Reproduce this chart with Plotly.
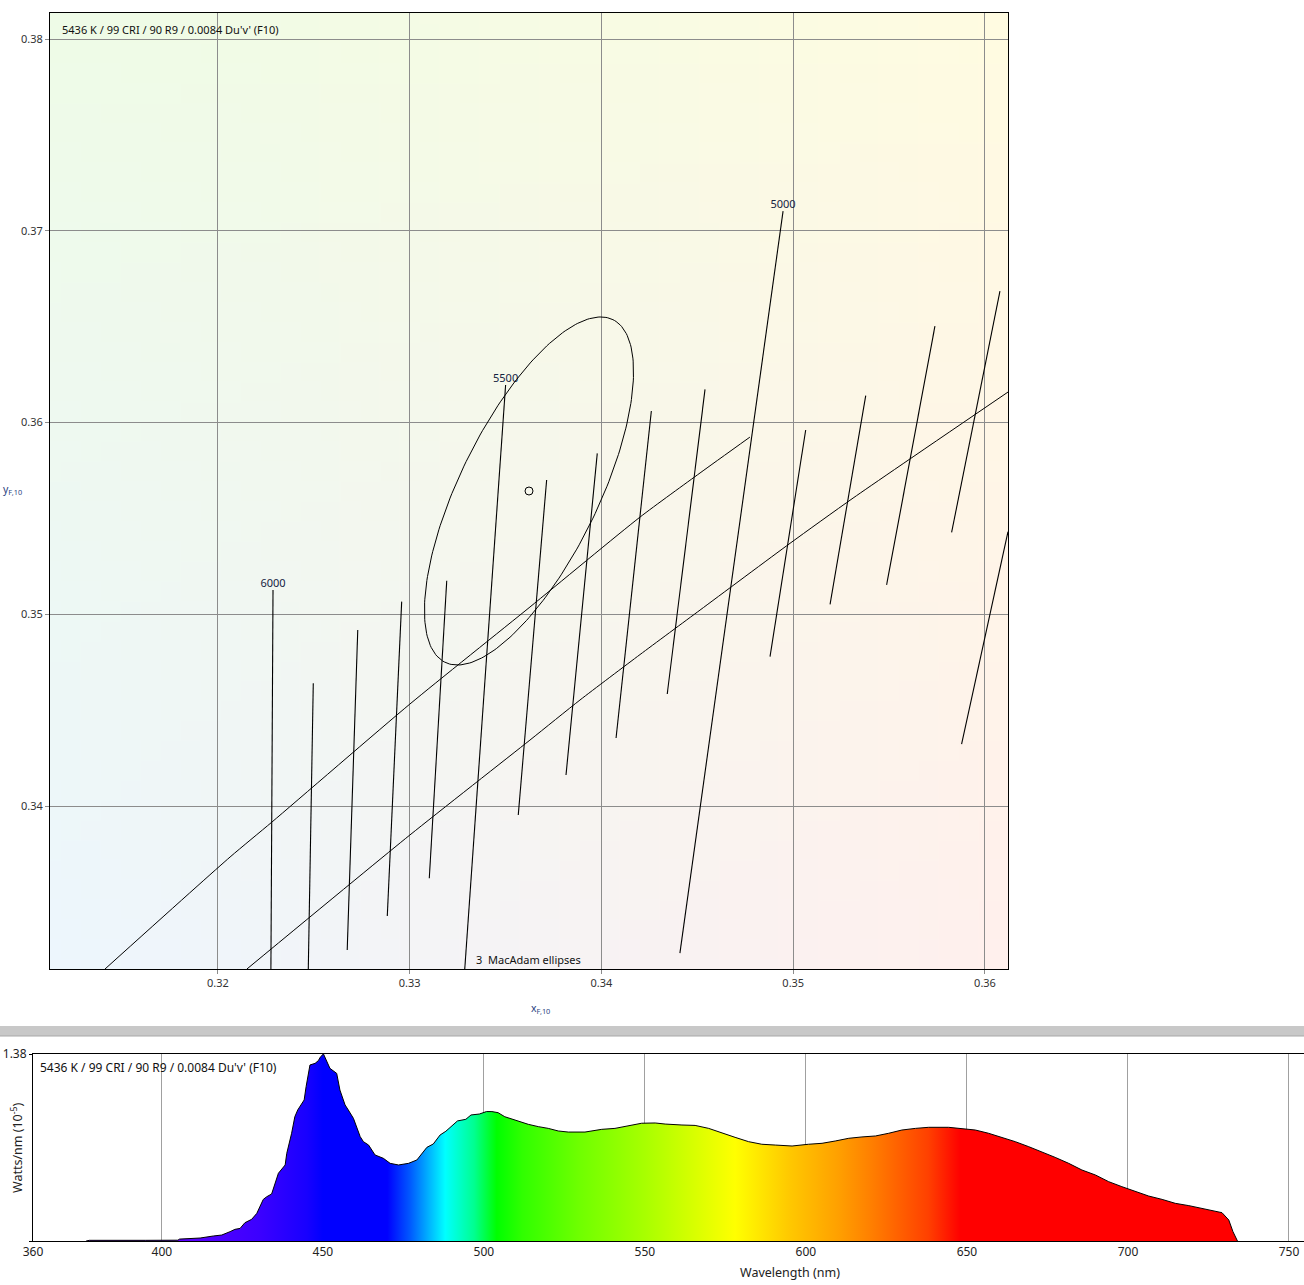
import base64
import struct
import zlib

import numpy as np
import plotly.graph_objects as go

# ---------------- Chromaticity chart data (x_F10, y_F10) ----------------
X_RANGE = [0.31124, 0.3612]
Y_RANGE = [0.3315, 0.38136]
X_TICKS = [0.32, 0.33, 0.34, 0.35, 0.36]
Y_TICKS = [0.34, 0.35, 0.36, 0.37, 0.38]

UPPER_LOCUS_X = [0.31411, 0.32063, 0.32282, 0.33001, 0.33627, 0.34201, 0.34514, 0.34774]
UPPER_LOCUS_Y = [0.33150, 0.33734, 0.33917, 0.34532, 0.35038, 0.35507, 0.35737, 0.35924]

LOWER_LOCUS_X = [0.32151, 0.33001, 0.33627, 0.33888, 0.34201, 0.34514, 0.34983, 0.35312, 0.36120]
LOWER_LOCUS_Y = [0.33150, 0.33849, 0.34344, 0.34553, 0.34790, 0.35022, 0.35370, 0.35606, 0.36159]

ISO_TOP_X = [0.32287, 0.32497, 0.32729, 0.32958, 0.33193, 0.33500, 0.33714, 0.33978,
             0.34260, 0.34540, 0.34947, 0.35065, 0.35378, 0.35739, 0.36078, 0.36120]
ISO_TOP_Y = [0.35127, 0.34640, 0.34918, 0.35066, 0.35175, 0.36196, 0.35700, 0.35839,
             0.36060, 0.36173, 0.37103, 0.35961, 0.36140, 0.36503, 0.36686, 0.35431]
ISO_BOT_X = [0.32276, 0.32471, 0.32674, 0.32883, 0.33102, 0.33287, 0.33566, 0.33815,
             0.34076, 0.34343, 0.34409, 0.34879, 0.35192, 0.35487, 0.35826, 0.35878]
ISO_BOT_Y = [0.33150, 0.33150, 0.33249, 0.33426, 0.33623, 0.33150, 0.33953, 0.34162,
             0.34355, 0.34584, 0.33233, 0.34779, 0.35052, 0.35153, 0.35427, 0.34323]
ISO_LABELS = ["6000", "", "", "", "", "5500", "", "", "", "", "5000", "", "", "", "", ""]

POINT_X = [0.33622]
POINT_Y = [0.35643]
ELLIPSE_A = 0.00995      # semi-major axis
ELLIPSE_B = 0.00362      # semi-minor axis
ELLIPSE_ANGLE_DEG = 63.9

INFO_TEXT = "5436 K / 99 CRI / 90 R9 / 0.0084 Du'v' (F10)"
ELLIPSE_TEXT = "3  MacAdam ellipses"

# ---------------- Spectrum data ----------------
SPEC_WL = [376.5, 377.5, 395, 405, 405.5, 411.9, 416, 418.6, 421.2, 422.7, 424.3, 425.8,
           427.9, 429.5, 431.5, 432.6, 434.1, 436.2, 438.3, 438.8, 440.3, 441.3, 442.2,
           443.4, 444.2, 444.8, 446.0, 447.6, 448.6, 449.3, 450.2, 452.2, 454.3, 455.3,
           456.9, 457.9, 459.5, 461.6, 462.6, 464.2, 466.2, 468.8, 470.9, 473.5, 476.6,
           479.2, 481.2, 482.3, 484.3, 486.4, 488.2, 490.3, 491.8, 494.4, 496.0, 498.6,
           500.8, 502.5, 504.4, 506.5, 509.6, 513.8, 516.9, 520.0, 523.1, 526.2, 531.4,
           536.6, 540.7, 544.9, 549.0, 553.2, 556.3, 561.5, 565.6, 569.8, 574.0, 578.0,
           582.2, 586.3, 590.5, 595.7, 600.8, 605.0, 609.1, 613.3, 617.4, 621.6, 625.7,
           629.8, 634.0, 638.1, 644.3, 648.4, 652.6, 656.7, 660.9, 665.0, 669.2, 673.3,
           677.4, 681.6, 685.7, 689.9, 694.0, 698.1, 702.3, 706.4, 710.6, 714.7, 718.9,
           723.0, 727.1, 729.2, 731.3, 732.6, 734.0]
SPEC_VAL = [0.0, 0.005, 0.005, 0.006, 0.014, 0.022, 0.037, 0.044, 0.069, 0.086, 0.093, 0.135,
            0.160, 0.204, 0.307, 0.327, 0.347, 0.500, 0.561, 0.647, 0.795, 0.917, 0.967,
            1.016, 1.041, 1.139, 1.299, 1.311, 1.331, 1.360, 1.380, 1.274, 1.237, 1.114,
            1.004, 0.967, 0.905, 0.770, 0.733, 0.708, 0.635, 0.610, 0.573, 0.561, 0.573,
            0.598, 0.659, 0.691, 0.716, 0.782, 0.810, 0.856, 0.886, 0.898, 0.930, 0.937,
            0.955, 0.955, 0.947, 0.917, 0.893, 0.861, 0.844, 0.831, 0.812, 0.804, 0.804,
            0.824, 0.831, 0.849, 0.869, 0.871, 0.863, 0.856, 0.853, 0.831, 0.795, 0.765,
            0.733, 0.714, 0.708, 0.701, 0.714, 0.721, 0.738, 0.758, 0.768, 0.775, 0.795,
            0.819, 0.831, 0.839, 0.839, 0.831, 0.819, 0.795, 0.765, 0.733, 0.696, 0.659,
            0.617, 0.573, 0.524, 0.487, 0.438, 0.401, 0.364, 0.332, 0.307, 0.278, 0.261,
            0.241, 0.216, 0.209, 0.155, 0.069, 0.0]
SPEC_X_TICKS = [360, 400, 450, 500, 550, 600, 650, 700, 750]
SPEC_Y_MAX = 1.38

# wavelength -> display colour stops (styling)
WL_STOPS = [380, 410, 430, 445, 450, 470, 477, 483, 488, 497, 504, 512, 530, 550, 568,
            578, 595, 610, 620, 638, 648, 780]
WL_COLORS = ["#7000ff", "#5800ff", "#3c00ff", "#1800ff", "#0000ff", "#0000ff", "#0058ff",
             "#00b4ff", "#00ffff", "#00ff90", "#00ff00", "#30ff00", "#70ff00", "#a8ff00",
             "#e0ff00", "#ffff00", "#ffc800", "#ffa000", "#ff8000", "#ff4000", "#ff0000",
             "#ff0000"]

# background corner tints (styling): top-left, top-right, bottom-left, bottom-right
BG_TL = (238, 251, 231)
BG_TR = (255, 251, 225)
BG_BL = (237, 246, 253)
BG_BR = (255, 240, 237)


def png_uri(rows):
    h = len(rows)
    w = len(rows[0])
    raw = b"".join(b"\x00" + bytes([c for px in row for c in px]) for row in rows)

    def chunk(tag, data):
        return (struct.pack(">I", len(data)) + tag + data
                + struct.pack(">I", zlib.crc32(tag + data) & 0xFFFFFFFF))

    png = (b"\x89PNG\r\n\x1a\n"
           + chunk(b"IHDR", struct.pack(">IIBBBBB", w, h, 8, 2, 0, 0, 0))
           + chunk(b"IDAT", zlib.compress(raw, 9))
           + chunk(b"IEND", b""))
    return "data:image/png;base64," + base64.b64encode(png).decode()


N = 48
rows = []
for j in range(N):
    v = j / (N - 1)
    row = []
    for i in range(N):
        u = i / (N - 1)
        px = tuple(int(round((1 - v) * ((1 - u) * BG_TL[k] + u * BG_TR[k])
                             + v * ((1 - u) * BG_BL[k] + u * BG_BR[k]))) for k in range(3))
        row.append(px)
    rows.append(row)
bg_uri = png_uri(rows)

fig = go.Figure()

# ---- top chart traces ----
fig.add_trace(go.Scatter(x=UPPER_LOCUS_X, y=UPPER_LOCUS_Y, mode="lines",
                         line=dict(color="black", width=1, shape="spline", smoothing=0.6),
                         xaxis="x", yaxis="y", hoverinfo="skip", showlegend=False))
fig.add_trace(go.Scatter(x=LOWER_LOCUS_X, y=LOWER_LOCUS_Y, mode="lines",
                         line=dict(color="black", width=1, shape="spline", smoothing=0.6),
                         xaxis="x", yaxis="y", hoverinfo="skip", showlegend=False))

iso_x, iso_y = [], []
for x1, y1, x2, y2 in zip(ISO_TOP_X, ISO_TOP_Y, ISO_BOT_X, ISO_BOT_Y):
    iso_x += [x1, x2, None]
    iso_y += [y1, y2, None]
fig.add_trace(go.Scatter(x=iso_x, y=iso_y, mode="lines",
                         line=dict(color="black", width=1.1), xaxis="x", yaxis="y",
                         hoverinfo="skip", showlegend=False))

lab_x = [x for x, t in zip(ISO_TOP_X, ISO_LABELS) if t]
lab_y = [y for y, t in zip(ISO_TOP_Y, ISO_LABELS) if t]
lab_t = [t for t in ISO_LABELS if t]
fig.add_trace(go.Scatter(x=lab_x, y=lab_y, mode="text", text=lab_t,
                         textposition="top center",
                         textfont=dict(family="Noto Sans", size=11, color="#14233f"),
                         xaxis="x", yaxis="y", hoverinfo="skip", showlegend=False))

t = np.linspace(0, 2 * np.pi, 240)
ang = np.deg2rad(ELLIPSE_ANGLE_DEG)
ex = POINT_X[0] + ELLIPSE_A * np.cos(t) * np.cos(ang) - ELLIPSE_B * np.sin(t) * np.sin(ang)
ey = POINT_Y[0] + ELLIPSE_A * np.cos(t) * np.sin(ang) + ELLIPSE_B * np.sin(t) * np.cos(ang)
fig.add_trace(go.Scatter(x=ex, y=ey, mode="lines", line=dict(color="black", width=1),
                         xaxis="x", yaxis="y", hoverinfo="skip", showlegend=False))

fig.add_trace(go.Scatter(x=POINT_X, y=POINT_Y, mode="markers",
                         marker=dict(symbol="circle-open", size=8,
                                     line=dict(color="black", width=1), color="black"),
                         xaxis="x", yaxis="y", hoverinfo="skip", showlegend=False))

# ---- bottom chart: spectrum ----
lo, hi = WL_STOPS[0], WL_STOPS[-1]
colorscale = [[(w - lo) / (hi - lo), c] for w, c in zip(WL_STOPS, WL_COLORS)]
fig.add_trace(go.Scatter(x=SPEC_WL, y=SPEC_VAL, mode="lines",
                         line=dict(color="black", width=1),
                         fill="tozeroy",
                         fillgradient=dict(type="horizontal", start=lo, stop=hi,
                                           colorscale=colorscale),
                         xaxis="x2", yaxis="y2", hoverinfo="skip", showlegend=False))

W, H = 1304, 1285


def px_x(p):
    return p / W


def px_y(p):
    return 1 - p / H


tickfont = dict(family="Noto Sans", size=11, color="#333333")
fig.update_layout(
    width=W, height=H,
    margin=dict(l=0, r=0, t=0, b=0, pad=0, autoexpand=False),
    paper_bgcolor="white",
    plot_bgcolor="rgba(0,0,0,0)",
    showlegend=False,
    xaxis=dict(domain=[px_x(50), px_x(1008)], range=X_RANGE, anchor="y", automargin=False,
               tickvals=X_TICKS, ticktext=[f"{v:.2f}" for v in X_TICKS],
               showgrid=True, gridcolor="#8c8c8c", gridwidth=1, zeroline=False,
               showline=True, linecolor="black", linewidth=1, mirror=True,
               ticks="outside", ticklen=4, tickcolor="#8c8c8c", tickfont=tickfont),
    yaxis=dict(domain=[px_y(969), px_y(13)], range=Y_RANGE, anchor="x", automargin=False,
               tickvals=Y_TICKS, ticktext=[f"{v:.2f}" for v in Y_TICKS],
               showgrid=True, gridcolor="#8c8c8c", gridwidth=1, zeroline=False,
               showline=True, linecolor="black", linewidth=1, mirror=True,
               ticks="outside", ticklen=4, tickcolor="#8c8c8c", tickfont=tickfont),
    xaxis2=dict(domain=[px_x(33), 1.0], range=[360, 754.66], anchor="y2", automargin=False,
                tickvals=SPEC_X_TICKS, ticktext=[str(v) for v in SPEC_X_TICKS],
                showgrid=True, gridcolor="#a0a0a0", gridwidth=1, zeroline=False,
                showline=True, linecolor="black", linewidth=1, mirror=True,
                ticks="", tickfont=dict(family="Noto Sans", size=12, color="#222222")),
    yaxis2=dict(domain=[px_y(1241), px_y(1054)], range=[0, SPEC_Y_MAX], anchor="x2",
                automargin=False,
                tickvals=[0, SPEC_Y_MAX], ticktext=["", "1.38"],
                showgrid=False, zeroline=False,
                showline=True, linecolor="black", linewidth=1,
                ticks="outside", ticklen=3, tickcolor="black",
                tickfont=dict(family="Noto Sans", size=12, color="#222222")),
    images=[dict(source=bg_uri, xref="x", yref="y", x=X_RANGE[0], y=Y_RANGE[1],
                 sizex=X_RANGE[1] - X_RANGE[0], sizey=Y_RANGE[1] - Y_RANGE[0],
                 xanchor="left", yanchor="top", sizing="stretch", layer="below")],
    shapes=[
        dict(type="rect", xref="paper", yref="paper", x0=0, x1=1,
             y0=px_y(1036), y1=px_y(1026), fillcolor="#c8c8c8",
             line=dict(width=0), layer="above"),
        dict(type="line", xref="paper", yref="paper", x0=0, x1=1,
             y0=px_y(1036), y1=px_y(1036), line=dict(color="#a8a8a8", width=1)),
    ],
    annotations=[
        dict(text=INFO_TEXT, xref="paper", yref="paper", x=px_x(60), y=px_y(29),
             xanchor="left", yanchor="middle", showarrow=False,
             font=dict(family="Noto Sans", size=11, color="#111111")),
        dict(text=ELLIPSE_TEXT, xref="paper", yref="paper", x=px_x(474), y=px_y(959),
             xanchor="left", yanchor="middle", showarrow=False,
             font=dict(family="Noto Sans", size=11, color="#111111")),
        dict(text="x<sub>F,10</sub>", xref="paper", yref="paper", x=px_x(540), y=px_y(1008),
             xanchor="center", yanchor="middle", showarrow=False,
             font=dict(family="Noto Sans", size=10.5, color="#2a3f80")),
        dict(text="y<sub>F,10</sub>", xref="paper", yref="paper", x=px_x(1), y=px_y(489),
             xanchor="left", yanchor="middle", showarrow=False,
             font=dict(family="Noto Sans", size=10.5, color="#2a3f80")),
        dict(text=INFO_TEXT, xref="paper", yref="paper", x=px_x(38), y=px_y(1067),
             xanchor="left", yanchor="middle", showarrow=False,
             font=dict(family="Noto Sans", size=12, color="#111111")),
        dict(text="Watts/nm (10<sup>-5</sup>)", xref="paper", yref="paper",
             x=px_x(17), y=px_y(1148), xanchor="center", yanchor="middle",
             textangle=-90, showarrow=False,
             font=dict(family="Noto Sans", size=12.5, color="#222222")),
        dict(text="Wavelength (nm)", xref="paper", yref="paper",
             x=px_x(790), y=px_y(1272), xanchor="center", yanchor="middle",
             showarrow=False,
             font=dict(family="Noto Sans", size=12.5, color="#222222")),
    ],
)

fig.write_html("out.html",
               config={"displayModeBar": False},
               post_script="document.body.style.margin='0px';"
                           "document.body.style.overflow='hidden';")
